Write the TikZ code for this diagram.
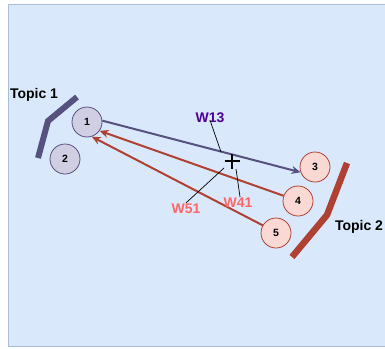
\documentclass[tikz,border=0pt]{standalone}
\usepackage{fontspec}
\setmainfont{Liberation Sans}
\usetikzlibrary{arrows.meta}
\definecolor{bgfill}{HTML}{DAE8FC}
\definecolor{bgline}{HTML}{A9BEDF}
\definecolor{purpfill}{HTML}{D0CEE2}
\definecolor{purpline}{HTML}{56517E}
\definecolor{redfill}{HTML}{FAD9D5}
\definecolor{redline}{HTML}{AE4132}
\definecolor{wviolet}{HTML}{4C0099}
\definecolor{wred}{HTML}{FF6666}
\begin{document}
\begin{tikzpicture}[x=1pt,y=-1pt,
  topicA/.style={circle,minimum size=30pt,inner sep=0pt,draw=purpline,fill=purpfill,line width=0.8pt,font=\bfseries\fontsize{10.5}{12}\selectfont},
  topicB/.style={circle,minimum size=30pt,inner sep=0pt,draw=redline,fill=redfill,line width=0.8pt,font=\bfseries\fontsize{10.5}{12}\selectfont},
  lbl/.style={font=\bfseries\fontsize{14}{16}\selectfont,inner sep=0pt},
  wlbl/.style={font=\bfseries\fontsize{14}{16}\selectfont,inner sep=0pt},
  link/.style={line width=2pt,-{Stealth[length=9pt,width=8pt]}},
  pointer/.style={line width=0.7pt,black}]
\useasboundingbox (0,0) rectangle (385,348);
% background panel
\draw[fill=bgfill,draw=bgline,line width=1pt] (8,4) rectangle (390,346);

% topic bars
\draw[purpline,line width=6pt,line join=miter] (77,97) -- (48,121) -- (38,158);
\draw[redline,line width=6.5pt,line join=round] (347,163) -- (327,215) -- (292,257);
\node[lbl] (t1) at (34,95) {Topic 1};
\node[lbl] (t2) at (359,227) {Topic 2};

% words
\node[topicA] (n1) at (87,122) {1};
\node[topicA] (n2) at (65,159) {2};
\node[topicB] (n3) at (315,167) {3};
\node[topicB] (n4) at (298,201) {4};
\node[topicB] (n5) at (276,233) {5};

% weighted links
\draw[link,purpline] (n1.5) -- (n3.200);
\draw[link,redline] (n4.160) -- (n1.-35);
\draw[link,redline] (n5.150) -- (n1.-72);

% crossing point marker
\coordinate (cx) at (232,161);
\draw[line width=1.6pt] ([xshift=-7.5pt]cx) -- ([xshift=7.5pt]cx)
                        ([yshift=-7.5pt]cx) -- ([yshift=7.5pt]cx);

% weight labels
\node[wlbl,text=wviolet] (w13) at (210,118) {W13};
\node[wlbl,text=wred] (w51) at (186,209) {W51};
\node[wlbl,text=wred] (w41) at (238,203) {W41};
\coordinate (p13) at (221,152);
\coordinate (p51) at (224,168);
\coordinate (p41) at (236,169);
\draw[pointer] ([yshift=3pt]w13.south) -- (p13);
\draw[pointer] ([yshift=1pt]w51.north) -- (p51);
\draw[pointer] ([xshift=2pt,yshift=1pt]w41.north) -- (p41);
\end{tikzpicture}
\end{document}
